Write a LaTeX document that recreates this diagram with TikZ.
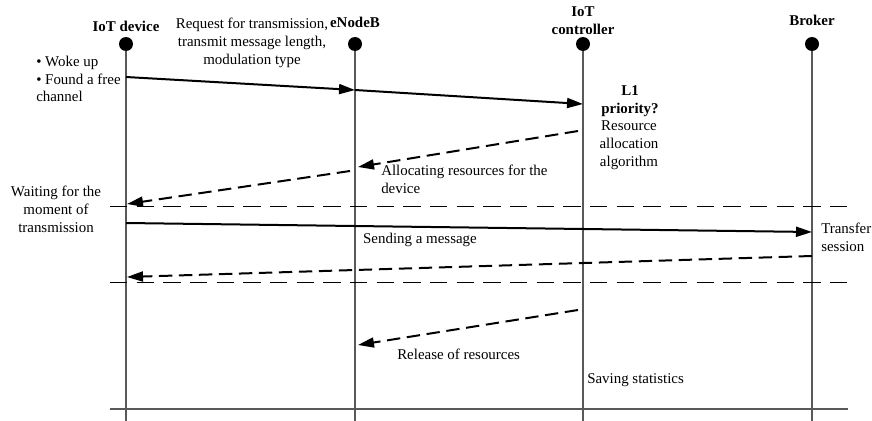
\documentclass[tikz,border=0pt]{standalone}
\usepackage{fontspec}
\setmainfont{Liberation Serif}
\usetikzlibrary{arrows.meta, positioning}

\tikzset{
	lifeline/.style={draw=black!65, line width=0.8pt},
	msg/.style={line width=1.5pt, -{Triangle[length=12pt, width=7.5pt]}},
	reply/.style={msg, dash pattern=on 10pt off 5pt},
	phase/.style={line width=0.6pt, dash pattern=on 13pt off 7pt},
	actor/.style={circle, fill=black, inner sep=0pt, minimum size=10.5pt},
	title/.style={font=\fontsize{11.2}{13.4}\selectfont\bfseries, align=center, inner sep=0pt},
	note/.style={align=center, inner sep=0pt},
}

\begin{document}
\begin{tikzpicture}[x=0.75pt, y=-0.75pt, font=\fontsize{11.2}{13.4}\selectfont]

\useasboundingbox (0,0) rectangle (872,421);

\def \ytop{44}
\def \ybot{421}

% lifelines
\foreach \name/\x in {dev/126, enb/355, ctl/583, brk/812} {
	\draw[lifeline] (\x, \ytop) -- (\x, \ybot); % lifeline
	\node[actor] (\name) at (\x, \ytop) {}; % head
}

\node[title] (tdev) at (126, 26) {IoT device};
\node[title] (tenb) at (355, 22) {eNodeB};
\node[title] (tctl) at (583, 20.5) {IoT\\controller};
\node[title] (tbrk) at (812, 20) {Broker};

% phase separators
\draw[phase] (110, 206) -- (848, 206);
\draw[phase] (110, 282) -- (848, 282);
\draw[lifeline] (110, 409) -- (848, 409); % end line

% message end points
\coordinate (m1s) at (126, 77);
\coordinate (m1e) at (355, 90);
\coordinate (m2e) at (583, 104);
\coordinate (m3s) at (578, 131);
\coordinate (m3e) at (358, 167);
\coordinate (m4s) at (350, 171);
\coordinate (m4e) at (127, 204);
\coordinate (m5s) at (126, 223);
\coordinate (m5e) at (812, 232);
\coordinate (m6s) at (812, 256);
\coordinate (m6e) at (127, 277);
\coordinate (m7s) at (578, 310);
\coordinate (m7e) at (358, 345);

\draw[msg]   (m1s) -- (m1e);
\draw[msg]   (m1e) -- (m2e);
\draw[reply] (m3s) -- (m3e);
\draw[reply] (m4s) -- (m4e);
\draw[msg]   (m5s) -- (m5e);
\draw[reply] (m6s) -- (m6e);
\draw[reply] (m7s) -- (m7e);

% texts
\node[note, align=left, anchor=west] (woke) at (36, 79) {\textbullet{} Woke up\\\textbullet{} Found a free\\channel};
\node[note] (req) at (252, 43) {Request for transmission,\\transmit message length,\\modulation type};
\node[title] (prio) at (630, 101) {L1\\priority?};
\node[note] (algo) at (629, 145) {Resource\\allocation\\algorithm};
\node[note, align=left, anchor=west] (alloc) at (381, 179) {Allocating resources for the\\device};
\node[note] (wait) at (56, 209) {Waiting for the\\moment of\\transmission};
\node[note] (send) at (420, 240) {Sending a message};
\node[note, align=left, anchor=west] (sess) at (821, 237) {Transfer\\session};
\node[note, anchor=west] (rel) at (397, 354) {Release of resources};
\node[note, anchor=west] (stat) at (587, 380) {Saving statistics};

\end{tikzpicture}
\end{document}
